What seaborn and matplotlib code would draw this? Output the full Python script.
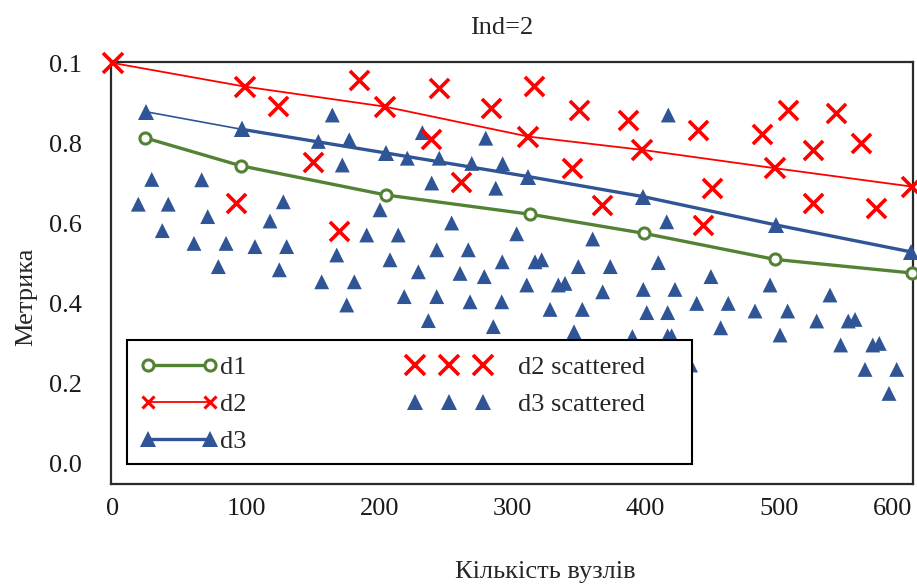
import numpy as np
import matplotlib
matplotlib.use("Agg")
import matplotlib.pyplot as plt
from matplotlib.lines import Line2D
from matplotlib.patches import Rectangle
from matplotlib.legend_handler import HandlerLine2D
import seaborn as sns

# Fitted curves
d1_x = [24, 96, 205, 313, 399, 497, 600]
d1_y = [0.813, 0.743, 0.670, 0.622, 0.574, 0.509, 0.475]

d2_x = [0, 99, 204, 312, 397, 497, 600]
d2_y = [1.000, 0.941, 0.891, 0.816, 0.783, 0.737, 0.691]

d3_x = [25, 97, 205, 312, 398, 498, 599]
d3_y = [0.878, 0.834, 0.775, 0.716, 0.666, 0.595, 0.528]

# Scattered observations
d2s_x = [92, 124, 150, 170, 185, 239, 245, 261, 284, 316, 345, 350,
         367, 387, 439, 443, 450, 487, 507, 526, 526, 543, 562, 573]
d2s_y = [0.649, 0.892, 0.753, 0.580, 0.958, 0.809, 0.938, 0.703, 0.887,
         0.943, 0.737, 0.883, 0.645, 0.858, 0.833, 0.595, 0.687, 0.822,
         0.883, 0.783, 0.649, 0.874, 0.801, 0.637]

d3s_x = [19.0, 29.1, 37.0, 41.5, 60.8, 66.6, 71.1, 79.1, 84.9, 106.6,
         117.9, 124.9, 127.9, 130.4, 154.2, 156.7, 164.7, 168.0, 172.2,
         175.5, 177.4, 181.2, 190.5, 200.5, 208.0, 214.2, 218.7, 221.0,
         229.3, 232.3, 236.8, 239.3, 243.1, 243.1, 245.0, 254.3, 260.6,
         266.8, 268.1, 269.4, 278.8, 279.9, 285.6, 287.4, 291.9, 292.3,
         292.6, 303.1, 310.7, 316.9, 321.9, 328.2, 334.4, 339.4, 346.2,
         349.4, 352.4, 360.2, 367.7, 373.4, 390.0, 398.2, 400.8, 409.5,
         415.8, 416.5, 416.5, 419.5, 417.0, 422.0, 433.7, 438.3, 449.0,
         456.3, 462.0, 482.1, 493.4, 500.9, 506.6, 528.4, 538.4, 546.4,
         552.1, 557.2, 564.7, 570.5, 575.4, 582.7, 588.5]
d3s_y = [0.647, 0.709, 0.581, 0.647, 0.549, 0.708, 0.616, 0.491, 0.549,
         0.541, 0.605, 0.483, 0.653, 0.541, 0.804, 0.453, 0.870, 0.520,
         0.745, 0.395, 0.808, 0.453, 0.570, 0.633, 0.508, 0.570, 0.416,
         0.762, 0.478, 0.826, 0.356, 0.700, 0.533, 0.416, 0.762, 0.600,
         0.474, 0.533, 0.403, 0.749, 0.466, 0.812, 0.341, 0.687, 0.403,
         0.503, 0.748, 0.573, 0.445, 0.503, 0.508, 0.384, 0.445, 0.449,
         0.328, 0.491, 0.384, 0.560, 0.428, 0.491, 0.316, 0.434, 0.376,
         0.501, 0.603, 0.376, 0.318, 0.318, 0.870, 0.434, 0.245, 0.399,
         0.466, 0.338, 0.399, 0.380, 0.445, 0.320, 0.380, 0.355, 0.420,
         0.295, 0.355, 0.359, 0.234, 0.295, 0.299, 0.174, 0.234]

x_ticks = [0, 100, 200, 300, 400, 500, 600]
y_ticks = [0.0, 0.2, 0.4, 0.6, 0.8, 1.0]
y_tick_labels = ["0.0", "0.2", "0.4", "0.6", "0.8", "0.1"]

GREEN = "#548235"
RED = "#FF0000"
BLUE = "#2F5597"
FS = 19

sns.set_style("white")
plt.rcParams["font.family"] = ["Liberation Serif", "DejaVu Serif"]
plt.rcParams["font.size"] = FS

W, H = 917, 586
fig = plt.figure(figsize=(W / 100, H / 100), dpi=100)
ax = fig.add_axes([111 / W, 1 - 484 / H, 802 / W, 422 / H])

# scattered clouds
sns.scatterplot(x=d3s_x, y=d3s_y, marker="^", s=115, color=BLUE,
                edgecolor="none", ax=ax, zorder=5, clip_on=False)
sns.scatterplot(x=d2s_x, y=d2s_y, marker="x", s=190, color=RED,
                linewidth=2.6, ax=ax, zorder=6, clip_on=False)

# d2 curve
sns.lineplot(x=d2_x, y=d2_y, color=RED, linewidth=1.3, marker="x",
             markersize=14, markeredgewidth=2.6, markeredgecolor=RED,
             ax=ax, zorder=4, clip_on=False)
# d1 curve
sns.lineplot(x=d1_x, y=d1_y, color=GREEN, linewidth=2.4, marker="o",
             markersize=8, markerfacecolor="white", markeredgecolor=GREEN,
             markeredgewidth=2.2, ax=ax, zorder=4, clip_on=False)
# d3 curve: thin opening segment, heavier afterwards
sns.lineplot(x=d3_x[:2], y=d3_y[:2], color=BLUE, linewidth=1.2,
             marker="^", markersize=11, markeredgewidth=0, ax=ax, zorder=4,
             clip_on=False)
sns.lineplot(x=d3_x[1:], y=d3_y[1:], color=BLUE, linewidth=2.4,
             marker="^", markersize=11, markeredgewidth=0, ax=ax, zorder=4,
             clip_on=False)

ax.set_xlim((111 - 113) / 1.3317, (913 - 113) / 1.3317)
ax.set_ylim(-0.0525, 1.0025)
ax.set_xticks(x_ticks)
ax.set_xticklabels([str(t) for t in x_ticks])
ax.set_yticks(y_ticks)
ax.set_yticklabels(y_tick_labels)
ax.tick_params(axis="both", length=0, labelsize=FS, colors="#1a1a1a")
ax.tick_params(axis="y", pad=21)
ax.tick_params(axis="x", pad=10)
ax.get_xticklabels()[-1].set_horizontalalignment("right")

for sp in ax.spines.values():
    sp.set_color("#2a2a2a")
    sp.set_linewidth(1.6)

ax.set_title("Ind=2", x=(502 - 111) / 802, y=(484 - 28) / 422,
             va="center", fontsize=FS, pad=0)
ax.set_xlabel("Кількість вузлів", fontsize=FS)
ax.xaxis.set_label_coords((545 - 111) / 802, -(572 - 484) / 422)
ax.xaxis.label.set_va("center")
ax.set_ylabel("Метрика", fontsize=FS)
ax.yaxis.set_label_coords((26 - 111) / 802, (484 - 297) / 422)
ax.yaxis.label.set_va("center")

# legend box
ax.add_patch(Rectangle((127 / W, 1 - 464 / H), 565 / W, 124 / H,
                       transform=fig.transFigure, facecolor="white",
                       edgecolor="black", linewidth=1.5, zorder=10,
                       clip_on=False))


class SpreadMarkers(HandlerLine2D):
    """Three markers fanned out around the handle slot."""

    def get_xdata(self, legend, xdescent, ydescent, width, height, fontsize):
        xd = -xdescent + fontsize * np.array([-1.17, 0.11, 1.40])
        return xd, xd


h_d1 = Line2D([], [], color=GREEN, lw=2.4, marker="o", ms=8,
              mfc="white", mec=GREEN, mew=2.2)
h_d2 = Line2D([], [], color=RED, lw=1.3, marker="x", ms=8, mew=2.2)
h_d3 = Line2D([], [], color=BLUE, lw=2.4, marker="^", ms=12, mew=0)
h_s2 = Line2D([], [], ls="none", color=RED, marker="x", ms=14, mew=2.6)
h_s3 = Line2D([], [], ls="none", color=BLUE, marker="^", ms=11, mew=0)

line_h = HandlerLine2D(numpoints=2, marker_pad=0)
pts_h = SpreadMarkers(numpoints=3)
leg = ax.legend([h_d1, h_d2, h_d3, h_s2, h_s3],
                ["d1", "d2", "d3", "d2 scattered", "d3 scattered"],
                ncol=2, loc="upper left",
                bbox_to_anchor=(148 / W, 1 - 356 / H),
                bbox_transform=fig.transFigure, frameon=False,
                borderpad=0, borderaxespad=0, handlelength=2.35,
                handletextpad=0.38, columnspacing=7.55, labelspacing=0.51,
                fontsize=FS,
                handler_map={h_d1: line_h, h_d2: line_h, h_d3: line_h,
                             h_s2: pts_h, h_s3: pts_h})
leg.set_zorder(11)

fig.savefig("out.png", dpi=100)
